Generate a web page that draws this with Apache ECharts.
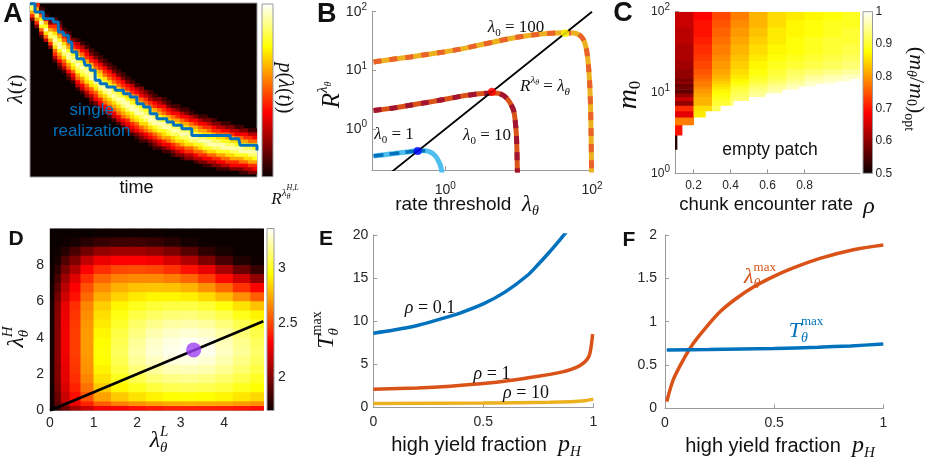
<!DOCTYPE html>
<html>
<head>
<meta charset="utf-8">
<title>patch foraging panels</title>
<script src="https://cdn.jsdelivr.net/npm/echarts@6.0.0/dist/echarts.min.js"></script>
<style>
  html, body { margin: 0; padding: 0; background: #fff; }
  #chart { width: 926px; height: 460px; }
</style>
</head>
<body>
<div id="chart"></div>
<script>
// ---------- values ----------

// A: density of lambda(t); ridge centre per 2-unit time column (t 0..100, lambda 0..100)
const A_COL = 2
const A_ROW = 2
const aRidge = [98, 94, 89, 85.5, 82, 79, 76, 73, 70, 67.5, 65, 63, 60.5, 58.2, 56, 53.8, 51.6, 49.6, 47.5, 45.5,
  43.6, 41.8, 40, 38.4, 36.8, 35.3, 33.8, 32.4, 31.1, 29.8, 28.6, 27.5, 26.4, 25.4, 24.4, 23.5, 22.6, 21.7, 20.9, 20.1,
  19.4, 18.7, 18.1, 17.5, 16.9, 16.4, 15.9, 15.4, 14.9, 14.4]
// half width of the band for each block of ten time units
const aSpread = [7.5, 12, 14, 14.5, 14.5, 14, 13.5, 13, 12.5, 12]
// colour level against distance from the ridge (steps of 0.1 half widths)
const aProfile = [0.92, 0.85, 0.78, 0.7, 0.62, 0.53, 0.44, 0.35, 0.26, 0.17, 0.08]
// single realization (step path)
const aWalk = [[0, 99.6], [2.2, 94.8], [5.9, 91], [10.3, 89.1], [12.5, 83.3], [14.7, 81.4], [16.9, 77.6], [18.4, 71.8],
  [20.6, 68], [23.5, 67], [24.3, 64.2], [26.5, 61.3], [28.7, 55.6], [30.9, 53.6], [33.8, 51.7], [37.5, 49.8],
  [41.2, 47.9], [44.1, 46], [47.1, 42.1], [50, 40.2], [52.9, 36.4], [55.9, 33.5], [60.3, 31.6], [63.2, 29.7],
  [66.9, 27.8], [71.3, 23.9], [86.8, 23.9], [88.2, 22], [91.9, 22], [92.6, 18.2], [98.5, 18.2], [100, 15.3]]

// B: R^lambda_theta against rate threshold lambda_theta
const bLam100 = [[0.105, 13.9], [0.2, 15.6], [0.333, 16.9], [0.56, 18.7], [0.95, 20.6], [1.6, 23], [2.7, 26.5], [4.6, 30.5],
  [7.7, 35], [13, 39], [21.9, 42], [33, 43.3], [43, 43.6], [55, 43.3], [62.6, 42], [70, 38.5], [77, 32.7], [82, 26],
  [85.8, 19.3], [89.5, 12], [93.1, 5.9], [95.5, 2.5], [97.2, 0.82], [98.6, 0.2], [99.5, 0.05]]
const bLam10 = [[0.105, 2.06], [0.2, 2.29], [0.333, 2.55], [0.56, 2.84], [0.95, 3.18], [1.6, 3.6], [2.7, 3.95], [4.33, 4.1],
  [5.3, 4.05], [6.3, 3.7], [7.3, 3.06], [8.55, 2.06], [9.3, 0.82], [9.6, 0.2], [9.8, 0.05]]
const bLam1 = [[0.105, 0.348], [0.2, 0.381], [0.3, 0.405], [0.41, 0.424], [0.53, 0.425], [0.63, 0.4], [0.73, 0.348],
  [0.8, 0.29], [0.855, 0.24], [0.9, 0.18], [0.95, 0.1]]
const bDiag = [[0.1, 0.1], [100, 100]]
const bDots = [[0.42, 0.42], [4.33, 4.33], [43, 43]]
const bXLabelExp = [0, 2]
const bYLabelExp = [0, 1, 2]

// C: (m_theta/m_0)_opt on rho x m0 (rows are integer m0 bins, bottom to top)
const C_RHO0 = 0.1
const C_COL = 0.1
const cM0Edges = [2, 3, 4, 5, 6, 7, 8, 9, 10, 11, 12, 13, 14, 15, 17, 20, 25, 30, 40, 50, 65, 80, 100]
const cRowEnd = [0.109, 0.136, 0.199, 0.262, 0.343, 0.415, 0.496, 0.586, 0.677, 0.765, 0.857, 0.965, 1.046,
  1.1, 1.1, 1.1, 1.1, 1.1, 1.1, 1.1, 1.1, 1.1]
const cRows = [
  [0.52],
  [0.7],
  [0.78],
  [0.66, 0.86],
  [0.72, 0.85, 0.92],
  [0.6, 0.82, 0.9, 0.94],
  [0.64, 0.82, 0.89, 0.93],
  [0.6, 0.81, 0.88, 0.92, 0.95],
  [0.56, 0.8, 0.87, 0.91, 0.94, 0.96],
  [0.58, 0.79, 0.86, 0.9, 0.93, 0.95, 0.97],
  [0.57, 0.78, 0.85, 0.89, 0.92, 0.94, 0.96, 0.98],
  [0.6, 0.78, 0.84, 0.88, 0.91, 0.93, 0.95, 0.97, 0.98],
  [0.58, 0.77, 0.83, 0.87, 0.9, 0.92, 0.94, 0.96, 0.97, 0.98],
  [0.6, 0.76, 0.82, 0.86, 0.89, 0.91, 0.93, 0.95, 0.96, 0.97],
  [0.6, 0.75, 0.81, 0.85, 0.88, 0.9, 0.92, 0.93, 0.94, 0.95],
  [0.61, 0.74, 0.8, 0.84, 0.87, 0.89, 0.9, 0.91, 0.92, 0.93],
  [0.62, 0.73, 0.79, 0.83, 0.86, 0.88, 0.89, 0.9, 0.91, 0.92],
  [0.62, 0.72, 0.78, 0.82, 0.85, 0.87, 0.88, 0.89, 0.9, 0.91],
  [0.63, 0.71, 0.77, 0.81, 0.84, 0.86, 0.88, 0.89, 0.9, 0.9],
  [0.63, 0.7, 0.76, 0.8, 0.83, 0.86, 0.87, 0.88, 0.89, 0.9],
  [0.64, 0.7, 0.75, 0.79, 0.82, 0.85, 0.87, 0.88, 0.89, 0.89],
  [0.64, 0.69, 0.74, 0.78, 0.82, 0.85, 0.86, 0.87, 0.88, 0.89]
]
const cXTicks = [0.2, 0.4, 0.6, 0.8]
const cYLabelExp = [0, 1, 2]

// D: rate on (lambda_theta^L, lambda_theta^H), rows listed top (lambda^H = 10) to bottom
const dLEdges = [0, 0.1, 0.25, 0.45, 0.7, 1.0, 1.4, 1.8, 2.2, 2.6, 3.0, 3.4, 3.8, 4.2, 4.6, 4.9]
const dHEdges = [0, 0.25, 0.5, 1, 1.5, 2, 2.5, 3, 3.5, 4, 4.5, 5, 5.5, 6, 6.5, 7, 7.5, 8, 8.5, 9, 9.5, 10]
const dRowsTopDown = [
  [1.69, 1.69, 1.69, 1.69, 1.69, 1.7, 1.7, 1.7, 1.7, 1.69, 1.69, 1.69, 1.69, 1.69, 1.69],
  [1.69, 1.69, 1.7, 1.72, 1.76, 1.8, 1.82, 1.82, 1.8, 1.76, 1.72, 1.7, 1.69, 1.69, 1.69],
  [1.69, 1.7, 1.76, 1.85, 1.95, 2.03, 2.06, 2.06, 2.03, 1.97, 1.88, 1.78, 1.72, 1.69, 1.69],
  [1.69, 1.73, 1.86, 1.98, 2.14, 2.25, 2.3, 2.3, 2.27, 2.2, 2.1, 1.97, 1.84, 1.74, 1.7],
  [1.7, 1.78, 1.96, 2.1, 2.3, 2.43, 2.5, 2.51, 2.49, 2.44, 2.36, 2.24, 2.08, 1.92, 1.8],
  [1.7, 1.84, 2.05, 2.22, 2.43, 2.57, 2.64, 2.66, 2.66, 2.63, 2.57, 2.47, 2.34, 2.18, 2.02],
  [1.71, 1.9, 2.12, 2.3, 2.52, 2.67, 2.76, 2.8, 2.81, 2.8, 2.76, 2.68, 2.58, 2.44, 2.3],
  [1.71, 1.95, 2.18, 2.36, 2.58, 2.75, 2.84, 2.9, 2.93, 2.93, 2.91, 2.86, 2.78, 2.67, 2.55],
  [1.72, 1.99, 2.24, 2.43, 2.65, 2.83, 2.93, 3.0, 3.04, 3.06, 3.06, 3.03, 2.97, 2.88, 2.8],
  [1.72, 2.0, 2.25, 2.45, 2.67, 2.87, 2.98, 3.06, 3.11, 3.14, 3.15, 3.12, 3.07, 2.99, 2.92],
  [1.72, 2.0, 2.26, 2.46, 2.69, 2.9, 3.02, 3.12, 3.18, 3.22, 3.23, 3.21, 3.15, 3.08, 3.01],
  [1.72, 2.0, 2.26, 2.47, 2.7, 2.93, 3.06, 3.16, 3.24, 3.28, 3.3, 3.28, 3.22, 3.14, 3.07],
  [1.72, 2.0, 2.26, 2.47, 2.7, 2.95, 3.08, 3.2, 3.28, 3.32, 3.35, 3.33, 3.26, 3.18, 3.1],
  [1.72, 2.0, 2.26, 2.47, 2.7, 2.96, 3.1, 3.22, 3.3, 3.34, 3.37, 3.34, 3.27, 3.2, 3.12],
  [1.72, 2.0, 2.25, 2.46, 2.69, 2.95, 3.08, 3.2, 3.27, 3.31, 3.32, 3.3, 3.24, 3.17, 3.1],
  [1.72, 1.99, 2.24, 2.45, 2.68, 2.92, 3.05, 3.15, 3.21, 3.25, 3.26, 3.24, 3.19, 3.13, 3.06],
  [1.72, 1.98, 2.23, 2.43, 2.65, 2.88, 3.0, 3.08, 3.14, 3.17, 3.18, 3.16, 3.12, 3.07, 3.01],
  [1.71, 1.96, 2.2, 2.4, 2.6, 2.82, 2.93, 3.0, 3.05, 3.08, 3.09, 3.08, 3.05, 3.0, 2.95],
  [1.71, 1.93, 2.16, 2.35, 2.53, 2.72, 2.82, 2.88, 2.92, 2.95, 2.96, 2.95, 2.93, 2.89, 2.85],
  [1.7, 1.88, 2.08, 2.25, 2.4, 2.55, 2.63, 2.68, 2.72, 2.74, 2.75, 2.74, 2.73, 2.7, 2.67],
  [1.7, 1.8, 1.95, 2.07, 2.17, 2.27, 2.32, 2.36, 2.38, 2.4, 2.4, 2.4, 2.39, 2.37, 2.35]
]
const dDiag = [[0, 0], [4.9, 4.9]]
const dOpt = [[3.3, 3.33]]
const dBarTicks = [2, 2.5, 3]

// E: T_theta^max against p_H
const eRho01 = [[0, 8.6], [0.1, 9.0], [0.2, 9.5], [0.3, 10.2], [0.4, 11.0], [0.5, 12.0], [0.6, 13.4], [0.7, 15.3],
  [0.75, 16.6], [0.8, 18.0], [0.85, 19.5], [0.885, 20.6]]
const eRho1 = [[0, 2.1], [0.2, 2.25], [0.35, 2.45], [0.5, 2.75], [0.62, 3.1], [0.75, 3.6], [0.85, 4.05], [0.9, 4.4],
  [0.94, 4.85], [0.97, 5.5], [0.985, 6.3], [0.997, 8.5]]
const eRho10 = [[0, 0.45], [0.5, 0.5], [0.8, 0.58], [0.9, 0.65], [0.96, 0.76], [1, 0.95]]

// F: lambda_theta^max and T_theta^max against p_H
const fLamMax = [[0.008, 0.077], [0.038, 0.33], [0.084, 0.56], [0.13, 0.75], [0.19, 0.94], [0.252, 1.115], [0.328, 1.27],
  [0.405, 1.4], [0.496, 1.52], [0.588, 1.62], [0.71, 1.73], [0.863, 1.83], [1, 1.885]]
const fTMax = [[0.008, 0.673], [0.2, 0.678], [0.5, 0.69], [0.7, 0.705], [0.85, 0.72], [1, 0.742]]

// ---------- styles ----------
const SANS = "'Liberation Sans', Arial, Helvetica, sans-serif"
const SERIF = "'Liberation Serif', 'Times New Roman', serif"
const BLUE = '#0072BD'
const ORANGE = '#D95319'
const YELLOW = '#EDB120'
const LIGHTBLUE = '#4DBEEE'
const DARKRED = '#A2142F'
const AXIS_GRAY = '#9a9a9a'
const TEXT = '#262626'
const HOT_STOPS = [
  { offset: 0, color: '#0a0000' }, { offset: 0.375, color: '#ff0000' },
  { offset: 0.75, color: '#ffff00' }, { offset: 1, color: '#ffffff' }
]

// matlab 'hot'
function hot (t) {
  t = Math.max(0, Math.min(1, t))
  let r = Math.min(1, 0.04 + t / 0.375)
  let g = Math.max(0, Math.min(1, (t - 0.375) / 0.375))
  let b = Math.max(0, Math.min(1, (t - 0.75) / 0.25))
  return 'rgb(' + Math.round(r * 255) + ',' + Math.round(g * 255) + ',' + Math.round(b * 255) + ')'
}

// ---------- cell tables ----------
const aCells = []
aRidge.forEach(function (c, j) {
  let hw = aSpread[Math.floor(j * A_COL / 10)]
  for (let lam = 0; lam < 100; lam += A_ROW) {
    let k = Math.floor(Math.abs(lam + A_ROW / 2 - c) / hw / 0.1)
    if (k < aProfile.length) aCells.push([j * A_COL, (j + 1) * A_COL, lam, lam + A_ROW, aProfile[k]])
  }
})

const cCells = []
cRows.forEach(function (row, r) {
  row.forEach(function (v, k) {
    let x0 = C_RHO0 + k * C_COL
    cCells.push([x0, Math.min(x0 + C_COL, cRowEnd[r]), cM0Edges[r], cM0Edges[r + 1], v])
  })
})

const dCells = []
dRowsTopDown.forEach(function (row, r) {
  let h1 = dHEdges[dHEdges.length - 1 - r]
  let h0 = dHEdges[dHEdges.length - 2 - r]
  row.forEach(function (v, c) {
    dCells.push([dLEdges[c], dLEdges[c + 1], h0, h1, v])
  })
})

// ---------- series helpers ----------
function cellSeries (idx, data, lo, hi) {
  return {
    type: 'custom', xAxisIndex: idx, yAxisIndex: idx, data: data, clip: true, silent: true,
    encode: { x: [0, 1], y: [2, 3] },
    renderItem: function (params, api) {
      let p = api.coord([api.value(0), api.value(2)])
      let q = api.coord([api.value(1), api.value(3)])
      return {
        type: 'rect',
        shape: { x: Math.min(p[0], q[0]), y: Math.min(p[1], q[1]), width: Math.abs(q[0] - p[0]) + 0.7, height: Math.abs(q[1] - p[1]) + 0.7 },
        style: { fill: hot((api.value(4) - lo) / (hi - lo)) }
      }
    }
  }
}

function colorbarSeries (idx, mid) {
  return {
    type: 'custom', xAxisIndex: idx, yAxisIndex: idx, data: [[0.5, mid]], silent: true,
    renderItem: function (params) {
      let cs = params.coordSys
      return {
        type: 'rect',
        shape: { x: cs.x, y: cs.y, width: cs.width, height: cs.height },
        style: { fill: { type: 'linear', x: 0, y: 1, x2: 0, y2: 0, colorStops: HOT_STOPS }, stroke: AXIS_GRAY, lineWidth: 1 }
      }
    }
  }
}

function lineSeries (idx, data, color, width, dash, smooth) {
  return {
    type: 'line', xAxisIndex: idx, yAxisIndex: idx, data: data, symbol: 'none', silent: true,
    smooth: smooth === undefined ? 0.3 : smooth, clip: true,
    lineStyle: { color: color, width: width, type: dash || 'solid', cap: 'butt' }
  }
}

// ---------- axis helpers ----------
function axis (grid, type, min, max, more) {
  let a = {
    gridIndex: grid, type: type, min: min, max: max,
    axisLine: { show: true, lineStyle: { color: AXIS_GRAY, width: 1 } },
    axisTick: { show: true, inside: true, length: 4, lineStyle: { color: AXIS_GRAY } },
    axisLabel: { color: TEXT, fontSize: 14, fontFamily: SANS },
    splitLine: { show: false }
  }
  if (more) {
    for (let key in more) {
      if (typeof more[key] === 'object' && !Array.isArray(more[key]) && a[key]) a[key] = Object.assign({}, a[key], more[key])
      else a[key] = more[key]
    }
  }
  return a
}
function hiddenAxis (grid, min, max) {
  return { gridIndex: grid, type: 'value', min: min, max: max, show: false }
}
const SUP_RICH = { sup: { fontSize: 10, fontFamily: SANS, color: TEXT, padding: [0, 0, 9, 0] } }
function powerLabel (exps) {
  return function (v) {
    let l = Math.log10(v)
    let e = Math.round(l)
    if (Math.abs(l - e) > 1e-6 || exps.indexOf(e) < 0) return ''
    return '10{sup|' + e + '}'
  }
}

// ---------- math-ish text ----------
const measureCtx = document.createElement('canvas').getContext('2d')
// piece: [text, size, kind ('i' italic serif, 'r' roman serif, 's' sans, 'b' bold sans), dy, stackOnPrevious]
function label (x, y, pieces, opts) {
  opts = opts || {}
  let children = []
  let cursor = 0
  let lastStart = 0
  pieces.forEach(function (p) {
    let family = (p[2] === 's' || p[2] === 'b') ? SANS : SERIF
    let fstyle = p[2] === 'i' ? 'italic' : 'normal'
    let weight = p[2] === 'b' ? 'bold' : 'normal'
    measureCtx.font = fstyle + ' ' + weight + ' ' + p[1] + 'px ' + family
    let w = measureCtx.measureText(p[0]).width
    let start = p[4] ? lastStart : cursor
    children.push({
      type: 'text', x: start, y: p[3] || 0, silent: true, z: 100,
      style: { text: p[0], fill: opts.color || '#111', fontSize: p[1], fontFamily: family, fontStyle: fstyle, fontWeight: weight, align: 'left', verticalAlign: 'middle' }
    })
    if (!p[4]) lastStart = start
    cursor = Math.max(cursor, start + w)
  })
  children.forEach(function (c) { c.x -= cursor / 2 })
  return { type: 'group', x: x, y: y, rotation: opts.rot || 0, silent: true, z: 100, children: children }
}
const UP = Math.PI / 2
const DOWN = -Math.PI / 2

const texts = [
  label(13, 15, [['A', 27, 'b']]),
  label(326.7, 15, [['B', 27, 'b']]),
  label(623, 14, [['C', 27, 'b']]),
  label(16, 239, [['D', 21, 'b']]),
  label(326, 239, [['E', 21, 'b']]),
  label(629, 240, [['F', 21, 'b']]),
  // A
  label(136.5, 188, [['time', 18, 's']]),
  label(16, 89, [['λ', 21, 'i'], ['(', 21, 'r'], ['t', 21, 'i'], [')', 21, 'r']], { rot: UP }),
  label(91.7, 110, [['single', 17, 's']], { color: BLUE }),
  label(91.7, 131, [['realization', 17, 's']], { color: BLUE }),
  label(284.5, 88, [['p', 20, 'i'], ['(', 20, 'r'], ['λ', 20, 'i'], ['(', 20, 'r'], ['t', 20, 'i'], [')', 20, 'r'], [')', 20, 'r']], { rot: DOWN }),
  label(285, 200, [['R', 17, 'i'], ['λ', 11, 'i', -7], ['θ', 8, 'i', -3], ['H,L', 8, 'i', -12, true]]),
  // B
  label(332, 95, [['R', 25, 'i'], ['λ', 15, 'i', -9], ['θ', 10, 'i', -4]], { rot: UP }),
  label(467, 205, [['rate threshold  ', 19, 's'], ['λ', 23, 'i'], ['θ', 14, 'i', 6]]),
  label(516, 28, [['λ', 17, 'i'], ['0', 11, 'r', 5], [' = 100', 17, 'r']]),
  label(545, 87, [['R', 17, 'i'], ['λ', 11, 'i', -7], ['θ', 8, 'i', -4], [' = ', 17, 'r'], ['λ', 17, 'i'], ['θ', 11, 'i', 5]]),
  label(487, 136, [['λ', 17, 'i'], ['0', 11, 'r', 5], [' = 10', 17, 'r']]),
  label(394, 135, [['λ', 17, 'i'], ['0', 11, 'r', 5], [' = 1', 17, 'r']]),
  // C
  label(629, 95, [['m', 28, 'i'], ['0', 17, 'r', 7]], { rot: UP }),
  label(777, 205, [['chunk encounter rate  ', 18.5, 's'], ['ρ', 24, 'i', 2]]),
  label(770, 150, [['empty patch', 17.5, 's']]),
  label(916, 89, [['(', 22, 'r'], ['m', 22, 'i'], ['θ', 14, 'i', 5], ['/', 22, 'r'], ['m', 22, 'i'], ['0', 14, 'r', 5],
    [')', 22, 'r'], ['opt', 14, 'r', 7]], { rot: DOWN }),
  // D
  label(17, 337, [['λ', 24, 'i'], ['θ', 15, 'i', 7], ['H', 15, 'i', -9, true]], { rot: UP }),
  label(159, 441, [['λ', 24, 'i'], ['θ', 15, 'i', 7], ['L', 15, 'i', -9, true]]),
  // E
  label(327, 330, [['T', 24, 'i'], ['θ', 15, 'i', 7], ['max', 14, 'r', -10, true]], { rot: UP }),
  label(486, 445, [['high yield fraction  ', 20, 's'], ['p', 24, 'i'], ['H', 15, 'i', 7]]),
  label(430, 308, [['ρ', 18, 'i'], [' = 0.1', 18, 'r']]),
  label(492, 374, [['ρ', 18, 'i'], [' = 1', 18, 'r']]),
  label(526, 393, [['ρ', 18, 'i'], [' = 10', 18, 'r']]),
  // F
  label(760, 277, [['λ', 22, 'i'], ['θ', 14, 'i', 7], ['max', 13, 'r', -9, true]], { color: ORANGE }),
  label(806, 331, [['T', 22, 'i'], ['θ', 14, 'i', 7], ['max', 13, 'r', -9, true]], { color: BLUE }),
  label(780, 446, [['high yield fraction  ', 20, 's'], ['p', 24, 'i'], ['H', 15, 'i', 7]])
]

// ---------- chart ----------
const chart = echarts.init(document.getElementById('chart'), null, { renderer: 'canvas' })

const option = {
  animation: false,
  backgroundColor: '#fff',
  grid: [
    { left: 30, top: 3, width: 227, height: 174, show: true, borderColor: AXIS_GRAY, borderWidth: 1, backgroundColor: '#0a0000', outerBoundsMode: 'none' },
    { left: 262, top: 4, width: 11, height: 172.7, outerBoundsMode: 'none' },
    { left: 372, top: 11.7, width: 220, height: 158.3, outerBoundsMode: 'none' },
    { left: 675, top: 11.7, width: 185, height: 161.6, outerBoundsMode: 'none' },
    { left: 863, top: 11.7, width: 9.5, height: 161.6, outerBoundsMode: 'none' },
    { left: 50, top: 228.5, width: 213.3, height: 182, show: true, borderColor: AXIS_GRAY, borderWidth: 1, outerBoundsMode: 'none' },
    { left: 267, top: 228.5, width: 7, height: 182, outerBoundsMode: 'none' },
    { left: 373.3, top: 235, width: 220, height: 172.3, outerBoundsMode: 'none' },
    { left: 665, top: 235, width: 218.3, height: 173.3, outerBoundsMode: 'none' }
  ],
  xAxis: [
    hiddenAxis(0, 0, 100),
    hiddenAxis(1, 0, 1),
    axis(2, 'log', 0.1, 100, { logBase: 10, axisLabel: { formatter: powerLabel(bXLabelExp), rich: SUP_RICH, margin: 11 } }),
    axis(3, 'value', 0.1, 1.1, { axisLabel: { customValues: cXTicks, fontSize: 12, margin: 6 }, axisTick: { customValues: cXTicks } }),
    hiddenAxis(4, 0, 1),
    axis(5, 'value', 0, 4.9, { interval: 1, axisLine: { show: false }, axisLabel: { showMaxLabel: false, margin: 6 } }),
    hiddenAxis(6, 0, 1),
    axis(7, 'value', 0, 1, { interval: 0.5, axisLabel: { margin: 8 } }),
    axis(8, 'value', 0, 1, { interval: 0.5, axisLabel: { margin: 8 } })
  ],
  yAxis: [
    hiddenAxis(0, 0, 100),
    hiddenAxis(1, 0, 1),
    axis(2, 'log', 0.2, 100, { logBase: 10, axisLabel: { formatter: powerLabel(bYLabelExp), rich: SUP_RICH, margin: 5 } }),
    axis(3, 'log', 1, 100, { logBase: 10, axisLabel: { formatter: powerLabel(cYLabelExp), rich: SUP_RICH, fontSize: 12, margin: 5 } }),
    axis(4, 'value', 0.5, 1, {
      position: 'right', interval: 0.1, axisLine: { show: false }, axisTick: { show: false },
      axisLabel: { fontSize: 12, margin: 3, formatter: function (v) { return Math.abs(v - 1) < 1e-9 ? '1' : v.toFixed(1) } }
    }),
    axis(5, 'value', 0, 10, { interval: 2, axisLine: { show: false }, axisLabel: { showMaxLabel: false, margin: 6 } }),
    axis(6, 'value', 1.69, 3.37, { position: 'right', axisLine: { show: false }, axisTick: { show: false }, axisLabel: { customValues: dBarTicks, margin: 4 } }),
    axis(7, 'value', 0, 20, { interval: 5, axisLabel: { margin: 5 } }),
    axis(8, 'value', 0, 2, { interval: 0.5, axisLabel: { margin: 8 } })
  ],
  series: [
    // A
    cellSeries(0, aCells, 0, 1),
    { type: 'line', xAxisIndex: 0, yAxisIndex: 0, data: aWalk, step: 'end', symbol: 'none', silent: true, z: 3,
      lineStyle: { color: BLUE, width: 3 } },
    colorbarSeries(1, 0.5),
    // B
    lineSeries(2, bLam100, YELLOW, 5, null, 0.2),
    lineSeries(2, bLam100, '#E8622A', 5, [8, 8], 0.2),
    lineSeries(2, bLam10, ORANGE, 5, null, 0.2),
    lineSeries(2, bLam10, DARKRED, 5, [8, 8], 0.2),
    lineSeries(2, bLam1, LIGHTBLUE, 5, null, 0.2),
    lineSeries(2, bLam1.filter(function (p) { return p[0] <= 0.6 }), BLUE, 3.5, [10, 6], 0.2),
    { type: 'line', xAxisIndex: 2, yAxisIndex: 2, data: bDiag, symbol: 'none', silent: true, clip: true, z: 4,
      lineStyle: { color: '#000', width: 1.8 } },
    { type: 'scatter', xAxisIndex: 2, yAxisIndex: 2, data: bDots, symbolSize: 8, silent: true, z: 5,
      itemStyle: { color: function (p) { return ['#0000ff', '#ff0000', '#ffff00'][p.dataIndex] } } },
    // C
    cellSeries(3, cCells, 0.5, 1),
    colorbarSeries(4, 0.75),
    // D
    cellSeries(5, dCells, 1.69, 3.37),
    { type: 'line', xAxisIndex: 5, yAxisIndex: 5, data: dDiag, symbol: 'none', silent: true, z: 4,
      lineStyle: { color: '#000', width: 2.6 } },
    { type: 'scatter', xAxisIndex: 5, yAxisIndex: 5, data: dOpt, symbolSize: 15, silent: true, z: 5,
      itemStyle: { color: '#9D40F2' } },
    colorbarSeries(6, 2.5),
    // E
    lineSeries(7, eRho01, BLUE, 3.5),
    lineSeries(7, eRho1, ORANGE, 3.5),
    lineSeries(7, eRho10, YELLOW, 3.5),
    // F
    lineSeries(8, fLamMax, ORANGE, 3.5),
    lineSeries(8, fTMax, BLUE, 3.5)
  ],
  graphic: { elements: texts }
}

chart.setOption(option)
</script>
</body>
</html>
